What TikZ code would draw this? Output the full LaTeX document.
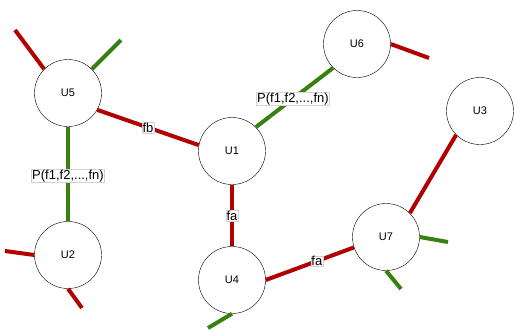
\documentclass[tikz,border=0pt]{standalone}
\usepackage{fontspec}
\setmainfont{Liberation Sans}
\definecolor{linkred}{RGB}{178,0,0}
\definecolor{linkgreen}{RGB}{56,128,16}
\tikzset{
  unit/.style={circle,draw,thin,minimum size=67pt,inner sep=0pt,font=\fontsize{11}{13}\selectfont},
  redlink/.style={draw=linkred,line width=4pt},
  greenlink/.style={draw=linkgreen,line width=4pt},
  tag/.style={fill=white,draw=gray!35,line width=0.4pt,inner sep=0.6pt,font=\fontsize{13}{15}\selectfont}
}
\begin{document}
\begin{tikzpicture}[x=1pt,y=-1pt]
  \useasboundingbox (0,0) rectangle (514,330);

  % Users
  \node[unit] (u5) at (68,93) {U5};
  \node[unit] (u2) at (68,255) {U2};
  \node[unit] (u1) at (232,151) {U1};
  \node[unit] (u4) at (232,280) {U4};
  \node[unit] (u6) at (357,44) {U6};
  \node[unit] (u7) at (386,237) {U7};
  \node[unit] (u3) at (480,111) {U3};

  % Loose link ends
  \coordinate (u5a) at (15,30);
  \coordinate (u5b) at (121,40);
  \coordinate (u2a) at (5,251);
  \coordinate (u2b) at (82,308);
  \coordinate (u6a) at (429,58);
  \coordinate (u4a) at (208,328);
  \coordinate (u7a) at (448,242);
  \coordinate (u7b) at (401,289);

  % Links between users
  \draw[redlink] (u5.-30) -- (u1.170) node[tag,pos=0.5] {fb};
  \draw[greenlink] (u5.south) -- (u2.north) node[tag,pos=0.52] {P(f1,f2,...,fn)};
  \draw[greenlink] (u1.45) -- (u6.225) node[tag,pos=0.48] {P(f1,f2,...,fn)};
  \draw[redlink] (u1.south) -- (u4.north) node[tag,pos=0.5] {fa};
  \draw[redlink] (u4.east) -- (u7.198) node[tag,pos=0.58] {fa};
  \draw[redlink] (u7.45) -- (u3.225);

  % Dangling links
  \draw[redlink] (u5.135) -- (u5a);
  \draw[greenlink] (u5.45) -- (u5b);
  \draw[redlink] (u2.west) -- (u2a);
  \draw[redlink] (u2.south) -- (u2b);
  \draw[redlink] (u6.east) -- (u6a);
  \draw[greenlink] (u4.south) -- (u4a);
  \draw[greenlink] (u7.east) -- (u7a);
  \draw[greenlink] (u7.south) -- (u7b);

\end{tikzpicture}
\end{document}
